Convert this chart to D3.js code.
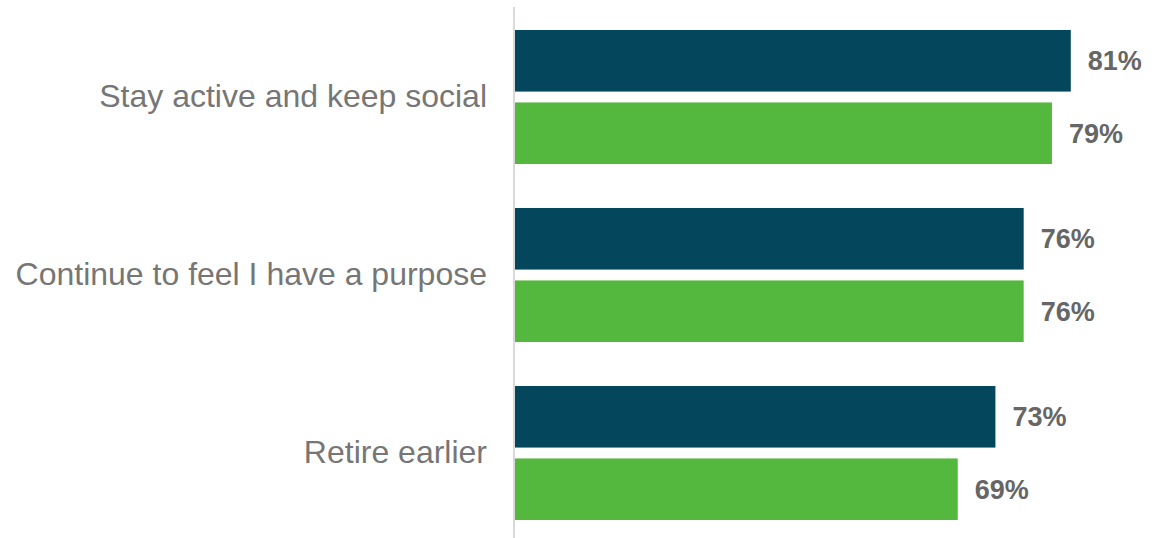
<!DOCTYPE html>
<html>
<head>
<meta charset="utf-8">
<script src="https://cdn.jsdelivr.net/npm/d3@7"></script>
<style>
  html, body { margin: 0; padding: 0; background: #ffffff; }
  svg { display: block; }
</style>
</head>
<body>
<svg id="chart" width="1163" height="538"></svg>
<script>
// Categories (top to bottom) and the two series
const categories = ["Stay active and keep social", "Continue to feel I have a purpose", "Retire earlier"];
const seriesNames = ["Series A", "Series B"];
const seriesA = [81, 76, 73];
const seriesB = [79, 76, 69];
const seriesColors = ["#04465C", "#55B83E"];

const width = 1163, height = 538;
const svg = d3.select("#chart");

const plot = { left: 515, top: 8, bottom: 542 };

// Value axis (not drawn) — baseline sits at 22
const x = d3.scaleLinear().domain([22, 82]).range([plot.left, plot.left + 60 * 9.42]);

const y0 = d3.scaleBand().domain(categories).range([plot.top, plot.bottom]).paddingInner(0.247).paddingOuter(0.1235);
const y1 = d3.scaleBand().domain(seriesNames).range([0, y0.bandwidth()]).paddingInner(0.15);

const rows = categories.map((c, i) => ({
  category: c,
  values: [
    { series: seriesNames[0], value: seriesA[i], color: seriesColors[0] },
    { series: seriesNames[1], value: seriesB[i], color: seriesColors[1] }
  ]
}));

const groups = svg.selectAll("g.group").data(rows).join("g")
  .attr("class", "group")
  .attr("transform", d => `translate(0,${y0(d.category)})`);

groups.selectAll("rect").data(d => d.values).join("rect")
  .attr("x", x(22))
  .attr("y", d => y1(d.series))
  .attr("width", d => x(d.value) - x(22))
  .attr("height", y1.bandwidth())
  .attr("fill", d => d.color);

groups.selectAll("text.value").data(d => d.values).join("text")
  .attr("class", "value")
  .attr("x", d => x(d.value) + 17)
  .attr("y", d => y1(d.series) + y1.bandwidth() / 2)
  .attr("dy", "0.36em")
  .attr("font-family", "Liberation Sans, Arial, sans-serif")
  .attr("font-weight", "bold")
  .attr("font-size", 27)
  .attr("fill", "#666666")
  .text(d => d.value + "%");

// Category axis
const yAxis = d3.axisLeft(y0).tickSize(0).tickPadding(27);
const axisG = svg.append("g").attr("transform", `translate(${plot.left - 1},0)`).call(yAxis);
axisG.select(".domain").remove();
axisG.selectAll("text")
  .attr("font-family", "Liberation Sans, Arial, sans-serif")
  .attr("font-size", 32)
  .attr("fill", "#767676")
  .attr("dy", "0.32em");

svg.append("line")
  .attr("x1", plot.left - 1).attr("x2", plot.left - 1)
  .attr("y1", 7).attr("y2", height)
  .attr("stroke", "#d9d9d9")
  .attr("stroke-width", 2);
</script>
</body>
</html>
